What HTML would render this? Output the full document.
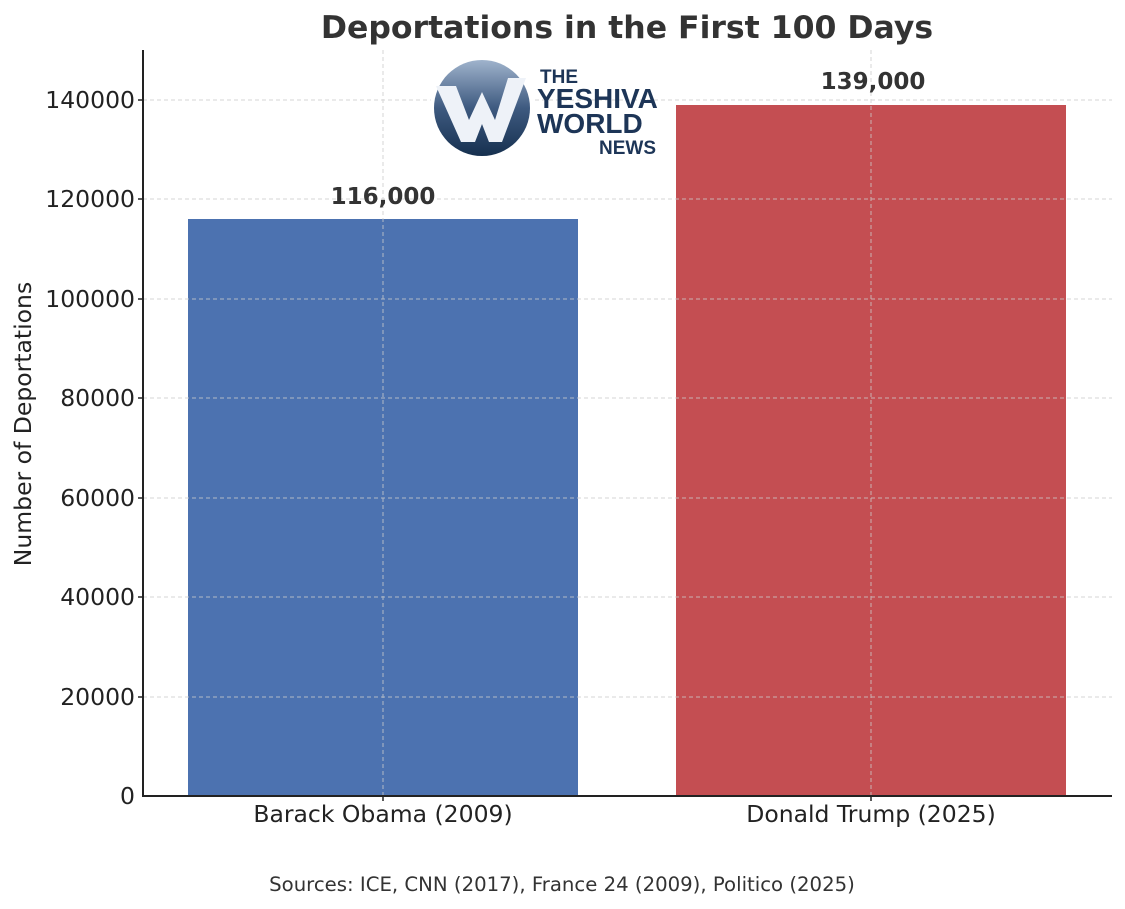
<!DOCTYPE html><html><head><style>body{margin:0;background:#fff}svg{display:block}</style></head><body>
<svg width="1125" height="909" xmlns="http://www.w3.org/2000/svg" font-family="DejaVu Sans, Liberation Sans, sans-serif">
<rect width="1125" height="909" fill="#fff"/>
<text x="627" y="38" text-anchor="middle" font-size="31.5" font-weight="bold" fill="#333">Deportations in the First 100 Days</text>
<rect x="188" y="219" width="390" height="577" fill="#4c72b0"/>
<rect x="676" y="105" width="390" height="691" fill="#c44e52"/>
<g stroke="#ccc" stroke-dasharray="4,3" stroke-width="1" opacity="0.8">
<line x1="143" x2="1112" y1="100" y2="100"/><line x1="143" x2="1112" y1="199" y2="199"/><line x1="143" x2="1112" y1="299" y2="299"/><line x1="143" x2="1112" y1="398" y2="398"/><line x1="143" x2="1112" y1="498" y2="498"/><line x1="143" x2="1112" y1="597" y2="597"/><line x1="143" x2="1112" y1="697" y2="697"/>
<line x1="383" x2="383" y1="50" y2="796"/><line x1="871" x2="871" y1="50" y2="796"/>
</g>
<g stroke="#222" stroke-width="2"><line x1="143" y1="50" x2="143" y2="797"/><line x1="142" y1="796" x2="1112" y2="796"/></g>
<g font-size="23.5" fill="#222" text-anchor="end">
<text x="135" y="804">0</text><text x="135" y="705">20000</text><text x="135" y="605">40000</text><text x="135" y="506">60000</text><text x="135" y="406">80000</text><text x="135" y="307">100000</text><text x="135" y="207">120000</text><text x="135" y="108">140000</text>
</g>
<g stroke="#222" stroke-width="1.5"><line x1="138" x2="143" y1="100" y2="100"/><line x1="138" x2="143" y1="199" y2="199"/><line x1="138" x2="143" y1="299" y2="299"/><line x1="138" x2="143" y1="398" y2="398"/><line x1="138" x2="143" y1="498" y2="498"/><line x1="138" x2="143" y1="597" y2="597"/><line x1="138" x2="143" y1="697" y2="697"/><line x1="383" x2="383" y1="796" y2="801"/><line x1="871" x2="871" y1="796" y2="801"/></g>
<text transform="translate(31,424) rotate(-90)" text-anchor="middle" font-size="23.5" fill="#222">Number of Deportations</text>
<g font-size="23.5" fill="#222" text-anchor="middle"><text x="383" y="822">Barack Obama (2009)</text><text x="871" y="822">Donald Trump (2025)</text></g>
<g font-size="23" font-weight="bold" fill="#333" text-anchor="middle"><text x="383" y="204">116,000</text><text x="873" y="89">139,000</text></g>
<text x="562" y="891" text-anchor="middle" font-size="19.7" fill="#333">Sources: ICE, CNN (2017), France 24 (2009), Politico (2025)</text>
<defs><linearGradient id="g" x1="0" y1="0" x2="0" y2="1"><stop offset="0" stop-color="#9fb3cc"/><stop offset="0.5" stop-color="#3e5a80"/><stop offset="1" stop-color="#16304f"/></linearGradient></defs>
<circle cx="482" cy="108" r="52" fill="#fff"/>
<circle cx="482" cy="108" r="48" fill="url(#g)"/>
<path d="M436 86 L456 86 L469 120 L482 92 L495 120 L508 78 L526 78 L502 142 L489 142 L482 124 L475 142 L461 142 Z" fill="#eef2f8"/>
<g font-family="Liberation Sans, sans-serif" font-weight="bold" fill="#1d3557">
<text x="540" y="83" font-size="19">THE</text><text x="537" y="108" font-size="28">YESHIVA</text><text x="537" y="133" font-size="28">WORLD</text><text x="599" y="154" font-size="19">NEWS</text></g>
</svg></body></html>
